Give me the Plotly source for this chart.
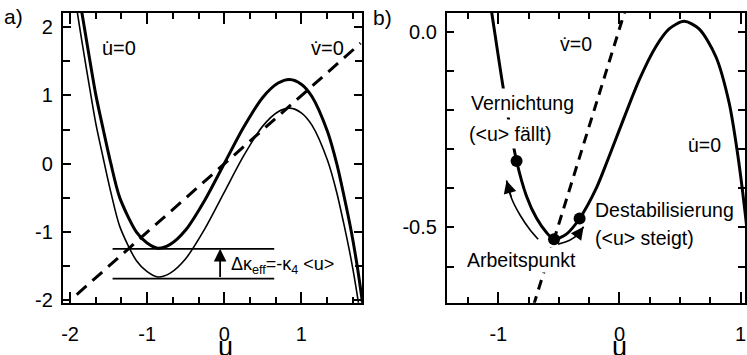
import plotly.graph_objects as go

FONT = "Liberation Sans, Arial, Helvetica, sans-serif"

# ---------------- data ----------------
# panel a: u-nullcline for <u>=0 (thick) and shifted one (thin)
ua_thick = [-1.88, -1.846, -1.741, -1.664, -1.569, -1.47, -1.354, -1.138, -1.0, -0.858,
            -0.7, -0.5, -0.25, 0.0, 0.25, 0.5, 0.7, 0.85, 1.0, 1.14, 1.34, 1.46, 1.55,
            1.65, 1.73, 1.79, 1.82]
ya_thick = [2.45, 2.21, 1.5, 1.0, 0.5, 0.0, -0.5, -1.0, -1.16, -1.237,
            -1.18, -0.97, -0.53, 0.0, 0.53, 0.97, 1.18, 1.233, 1.164, 0.98, 0.47, 0.0, -0.45,
            -1.0, -1.53, -2.0, -2.24]
ua_thin = [-1.95, -1.88, -1.846, -1.741, -1.664, -1.569, -1.47, -1.354, -1.138, -1.0, -0.858,
           -0.7, -0.5, -0.25, 0.0, 0.25, 0.5, 0.7, 0.85, 1.0, 1.14, 1.34, 1.46, 1.55,
           1.65, 1.73, 1.79, 1.82]
ya_thin = [2.54, 2.03, 1.79, 1.08, 0.58, 0.08, -0.42, -0.92, -1.42, -1.58, -1.657,
           -1.60, -1.39, -0.95, -0.42, 0.11, 0.55, 0.76, 0.813, 0.744, 0.56, 0.05, -0.42, -0.87,
           -1.42, -1.95, -2.42, -2.66]
# v-nullcline (dashed) panel a
va_u = [-1.913, 1.769]
va_y = [-1.914, 1.763]
# level lines and shift arrow
lev_u = [-1.448, 0.649]
lev_hi = -1.245
lev_lo = -1.68
shift_u = -0.053

# panel b: u-nullcline
ub = [-1.07, -1.054, -0.953, -0.849, -0.767, -0.685, -0.602, -0.54, -0.438, -0.329,
      -0.192, -0.1, 0.0, 0.164, 0.30, 0.41, 0.534, 0.657, 0.795, 0.904, 0.972, 1.04, 1.06]
yb = [0.08, 0.049, -0.155, -0.33, -0.42, -0.476, -0.513, -0.53, -0.517, -0.477,
      -0.40, -0.33, -0.25, -0.122, -0.038, 0.0075, 0.027, 0.0075, -0.063, -0.18, -0.305, -0.47, -0.53]
# v-nullcline panel b
vb_u = [-0.71, 0.05]
vb_y = [-0.70, 0.058]
# marked points: Vernichtung, Arbeitspunkt, Destabilisierung
pts_u = [-0.849, -0.54, -0.329]
pts_y = [-0.33, -0.53, -0.477]
# curved arrows
arrL_u = [-0.671, -0.74, -0.822, -0.89, -0.932]
arrL_y = [-0.53, -0.505, -0.4675, -0.426, -0.38]
arrR_u = [-0.507, -0.411, -0.342, -0.296]
arrR_y = [-0.5425, -0.5325, -0.5175, -0.498]

# ticks
a_xt = [-2, -1, 0, 1]
a_xl = ["-2", "-1", "0", "1"]
a_yt = [-2, -1, 0, 1, 2]
a_yl = ["-2", "-1", "0", "1", "2"]
b_xt = [-1, 0, 1]
b_xl = ["-1", "0", "1"]
b_yt = [-0.5, 0.0]
b_yl = ["-0.5", "0.0"]

# ---------------- figure ----------------
fig = go.Figure()
K = "black"

def line(x, y, w, ax, dash=None, spline=True):
    fig.add_trace(go.Scatter(
        x=x, y=y, mode="lines", xaxis=ax[0], yaxis=ax[1], hoverinfo="skip",
        line=dict(color=K, width=w, dash=dash,
                  shape="spline" if spline else "linear", smoothing=0.8),
        showlegend=False))

A = ("x", "y")
B = ("x2", "y2")
line(ua_thin, ya_thin, 1.6, A)
line(ua_thick, ya_thick, 3, A)
line(va_u, va_y, 3, A, dash="13px,8px", spline=False)
line(lev_u, [lev_hi, lev_hi], 1.8, A, spline=False)
line(lev_u, [lev_lo, lev_lo], 1.8, A, spline=False)

line(ub, yb, 3, B)
line(vb_u, vb_y, 3, B, dash="10px,7px", spline=False)
line(arrL_u, arrL_y, 1.6, B)
line(arrR_u, arrR_y, 1.6, B)
fig.add_trace(go.Scatter(x=pts_u, y=pts_y, mode="markers", xaxis="x2", yaxis="y2",
                         marker=dict(color=K, size=12), showlegend=False, hoverinfo="skip"))

ydom = [0.1248, 0.9634]

def axis(dom, rng, tv, tt, minor_dt, minor_t0, tlen, mlen, standoff, anchor):
    return dict(domain=dom, range=rng, anchor=anchor, showline=True, linecolor=K, linewidth=2,
                mirror="ticks", ticks="inside", ticklen=tlen, tickwidth=1.5, tickcolor=K,
                tickmode="array", tickvals=tv, ticktext=tt, showgrid=False, zeroline=False,
                ticklabelstandoff=standoff,
                tickfont=dict(family=FONT, size=20, color=K),
                minor=dict(ticks="inside", ticklen=mlen, tickwidth=1.5, tickcolor=K,
                           dtick=minor_dt, tick0=minor_t0, showgrid=False))

fig.update_layout(
    width=747, height=355, margin=dict(l=0, r=0, t=0, b=0),
    paper_bgcolor="white", plot_bgcolor="white",
    xaxis=axis([0.0817, 0.4839], [-2.094, 1.788], a_xt, a_xl, 1/3, -2, 11, 6, 12, "y"),
    yaxis=axis(ydom, [-2.035, 2.21], a_yt, a_yl, 0.5, 0, 8, 7, 4, "x"),
    xaxis2=axis([0.598, 0.9993], [-1.424, 1.04], b_xt, b_xl, 0.25, 0, 11, 6, 12, "y2"),
    yaxis2=axis(ydom, [-0.6925, 0.049], b_yt, b_yl, 0.1, 0, 7, 7, 4, "x2"),
)

ann = []
def txt(x, y, s, xr, yr, size=19.5, xanchor="left", yanchor="middle", bg=None, pad=1):
    d = dict(x=x, y=y, xref=xr, yref=yr, text=s, showarrow=False, xanchor=xanchor,
             yanchor=yanchor, font=dict(family=FONT, size=size, color=K), borderpad=pad)
    if bg:
        d["bgcolor"] = bg
    ann.append(d)

# panel labels
txt(0.0, (355 - 17) / 355, "a)", "paper", "paper", size=21)
txt(370 / 747, (355 - 18) / 355, "b)", "paper", "paper", size=21)
# axis titles
txt(0.02, 0.043, "u", "x", "paper", size=27, xanchor="center", yanchor="top", pad=0)
txt(0.0, 0.043, "u", "x2", "paper", size=27, xanchor="center", yanchor="top", pad=0)
# panel a texts
txt(-1.616, 1.70, "u\u0307=0", "x", "y", size=20)
txt(1.097, 1.70, "v\u0307=0", "x", "y", size=20)
txt(0.063, -1.49, "\u0394\u03ba<sub>eff</sub>=-\u03ba<sub>4</sub> &lt;u&gt;", "x", "y", size=18)
# panel b texts
txt(-0.507, -0.031, "v\u0307=0", "x2", "y2")
txt(-1.257, -0.1825, "Vernichtung", "x2", "y2", bg="white", pad=3)
txt(-1.274, -0.26, "(&lt;u&gt; f\u00e4llt)", "x2", "y2", bg="white", pad=3)
txt(0.55, -0.29, "u\u0307=0", "x2", "y2")
txt(-0.222, -0.455, "Destabilisierung", "x2", "y2")
txt(-0.222, -0.5275, "(&lt;u&gt; steigt)", "x2", "y2")
txt(-1.274, -0.5825, "Arbeitspunkt", "x2", "y2", bg="white", pad=1)

# arrows
ann.append(dict(x=shift_u, y=lev_hi, ax=shift_u, ay=lev_lo, xref="x", yref="y", axref="x", ayref="y",
                text="", showarrow=True, arrowhead=2, arrowsize=1.4, arrowwidth=1.8, arrowcolor=K,
                standoff=0))
ann.append(dict(x=arrL_u[-1], y=arrL_y[-1], ax=arrL_u[-2], ay=arrL_y[-2], xref="x2", yref="y2",
                axref="x2", ayref="y2", text="", showarrow=True, arrowhead=2, arrowsize=1.6,
                arrowwidth=1.6, arrowcolor=K, standoff=0))
ann.append(dict(x=arrR_u[-1], y=arrR_y[-1], ax=arrR_u[-2], ay=arrR_y[-2], xref="x2", yref="y2",
                axref="x2", ayref="y2", text="", showarrow=True, arrowhead=2, arrowsize=1.6,
                arrowwidth=1.6, arrowcolor=K, standoff=0))

fig.update_layout(annotations=ann)
fig.write_html("out.html")
